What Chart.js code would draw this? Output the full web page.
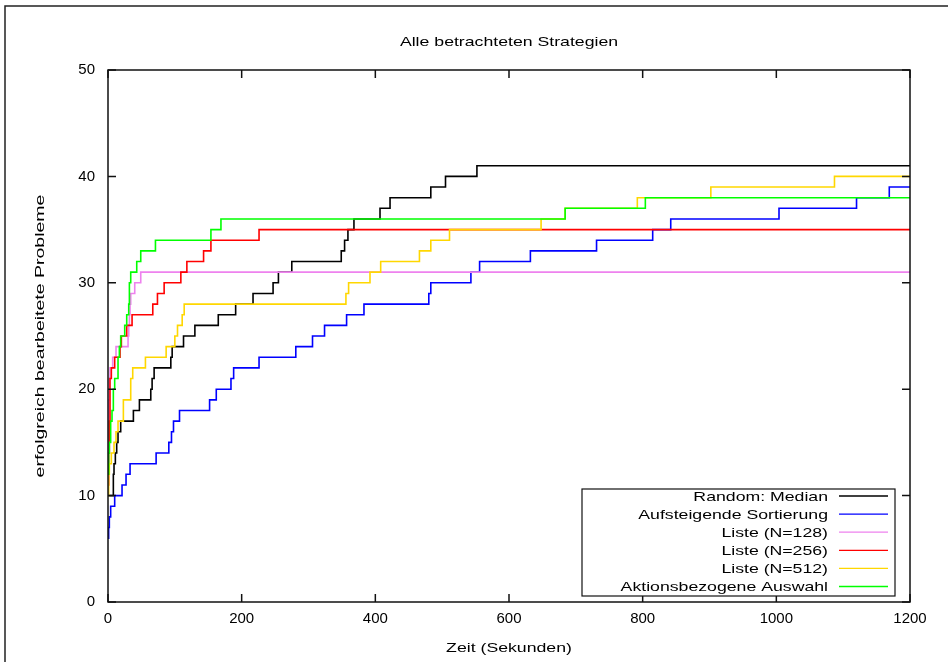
<!DOCTYPE html>
<html>
<head>
<meta charset="utf-8">
<title>Alle betrachteten Strategien</title>
<script src="https://cdn.jsdelivr.net/npm/chart.js@4.4.1/dist/chart.umd.min.js"></script>
<style>
  html, body { margin: 0; padding: 0; background: #fff; }
  #canvas { display: block; }
</style>
</head>
<body>
<canvas id="canvas" width="948" height="662"></canvas>
<script>
// step data: time (s) at which the count of solved problems rises, and the new count
var randomTime   = [0, 8, 9, 11, 13, 15, 19, 38, 47, 64, 66, 69, 94, 96, 113, 130, 165, 191, 217, 247, 255, 275, 349, 354, 359, 368, 407, 422, 483, 505, 552, 1200];
var randomSolved = [10, 12, 13, 14, 15, 16, 17, 18, 19, 20, 21, 22, 23, 24, 25, 26, 27, 28, 29, 30, 31, 32, 33, 34, 35, 36, 37, 38, 39, 40, 41, 41];

var sortTime   = [0, 1, 2, 4, 10, 21, 27, 33, 72, 91, 95, 98, 107, 152, 162, 184, 188, 226, 281, 306, 324, 357, 383, 480, 483, 543, 556, 632, 731, 815, 842, 1004, 1120, 1169, 1200];
var sortSolved = [6, 7, 8, 9, 10, 11, 12, 13, 14, 15, 16, 17, 18, 19, 20, 21, 22, 23, 24, 25, 26, 27, 28, 29, 30, 31, 32, 33, 34, 35, 36, 37, 38, 39, 39];

var list128Time   = [0, 1, 2, 3, 7, 12, 30, 31, 32, 33, 34, 40, 49, 1200];
var list128Solved = [15, 19, 21, 22, 23, 24, 25, 26, 27, 28, 29, 30, 31, 31];

var list256Time   = [0, 1, 2, 3, 5, 10, 18, 20, 28, 36, 67, 74, 84, 109, 118, 143, 154, 226, 1200];
var list256Solved = [11, 14, 17, 21, 22, 23, 24, 25, 26, 27, 28, 29, 30, 31, 32, 33, 34, 35, 35];

var list512Time   = [0, 1, 2, 5, 9, 12, 15, 23, 34, 37, 56, 87, 100, 104, 111, 114, 356, 360, 392, 408, 466, 483, 511, 648, 684, 792, 902, 1087, 1200];
var list512Solved = [10, 12, 13, 14, 15, 16, 17, 19, 21, 22, 23, 24, 25, 26, 27, 28, 29, 30, 31, 32, 33, 34, 35, 36, 37, 38, 39, 40, 40];

var actionTime   = [0, 1, 2, 4, 6, 8, 10, 15, 17, 19, 25, 28, 31, 32, 34, 43, 49, 71, 154, 169, 684, 804, 1200];
var actionSolved = [12, 14, 15, 17, 18, 20, 21, 23, 24, 25, 26, 27, 28, 30, 31, 32, 33, 34, 35, 36, 37, 38, 38];

var seriesLabels = ["Random: Median", "Aufsteigende Sortierung", "Liste (N=128)", "Liste (N=256)", "Liste (N=512)", "Aktionsbezogene Auswahl"];
var seriesColors = ["#000000", "#0000ff", "#ee82ee", "#ff0000", "#ffd700", "#00ff00"];

var xMin = 0, xMax = 1200, xStep = 200;
var yMin = 0, yMax = 50, yStep = 10;

var chartTitle = "Alle betrachteten Strategien";
var xTitle = "Zeit (Sekunden)";
var yTitle = "erfolgreich bearbeitete Probleme";

function toPoints(times, vals) {
    var pts = [];
    for (var i = 0; i < times.length; i++) {
        pts.push({ x: times[i], y: vals[i] });
    }
    return pts;
}

var allSeries = [
    toPoints(randomTime, randomSolved),
    toPoints(sortTime, sortSolved),
    toPoints(list128Time, list128Solved),
    toPoints(list256Time, list256Solved),
    toPoints(list512Time, list512Solved),
    toPoints(actionTime, actionSolved)
];

var datasets = allSeries.map(function(pts, i) {
    return {
        label: seriesLabels[i],
        data: pts,
        borderColor: seriesColors[i],
        backgroundColor: seriesColors[i],
        borderWidth: 1.6,
        pointRadius: 0,
        fill: false,
        stepped: 'before',
        order: allSeries.length - i   // later series on top, like gnuplot
    };
});

var STRETCH = 1.36;
var FONT = "13px 'Liberation Sans', Arial, sans-serif";

function wideText(ctx, text, x, y, align, rot, stretch) {
    ctx.save();
    ctx.translate(x, y);
    if (rot) ctx.rotate(rot);
    ctx.scale(stretch || STRETCH, 1);
    ctx.font = FONT;
    ctx.fillStyle = "#000";
    ctx.textAlign = align;
    ctx.textBaseline = "middle";
    ctx.fillText(text, 0, 0);
    ctx.restore();
}

// frame, inward ticks, legend box and titles
var gnuplotLook = {
    id: 'gnuplotLook',
    beforeDraw: function(chart) {
        var ctx = chart.ctx;
        ctx.save();
        ctx.fillStyle = "#fff";
        ctx.fillRect(0, 0, chart.width, chart.height);
        ctx.strokeStyle = "#222";
        ctx.lineWidth = 1.5;
        ctx.strokeRect(5, 6, 1200, 1200);
        ctx.restore();
    },
    afterDatasetsDraw: function(chart) {
        var ctx = chart.ctx;
        var a = chart.chartArea;
        var xs = chart.scales.x, ys = chart.scales.y;
        var tl = 8;
        ctx.save();
        ctx.strokeStyle = "#111";
        ctx.lineWidth = 1.5;
        ctx.beginPath();
        ys.ticks.forEach(function(t) {
            var py = ys.getPixelForValue(t.value);
            ctx.moveTo(a.left, py); ctx.lineTo(a.left + tl, py);
            ctx.moveTo(a.right, py); ctx.lineTo(a.right - tl, py);
        });
        xs.ticks.forEach(function(t) {
            var px = xs.getPixelForValue(t.value);
            ctx.moveTo(px, a.bottom); ctx.lineTo(px, a.bottom - tl);
            ctx.moveTo(px, a.top); ctx.lineTo(px, a.top + tl);
        });
        ctx.stroke();

        // legend, gnuplot style: right aligned text, sample on the right
        var bx = 582, by = 489, bw = 313, bh = 107;
        ctx.fillStyle = "#fff";
        ctx.fillRect(bx, by, bw, bh);
        ctx.lineWidth = 1.2;
        ctx.strokeStyle = "#111";
        ctx.strokeRect(bx, by, bw, bh);
        chart.data.datasets.forEach(function(ds, i) {
            var ly = 496 + i * 18.1;
            wideText(ctx, ds.label, 828, ly + 1, "right", 0);
            ctx.strokeStyle = ds.borderColor;
            ctx.lineWidth = 1.3;
            ctx.beginPath();
            ctx.moveTo(839, ly); ctx.lineTo(888, ly);
            ctx.stroke();
        });

        ctx.strokeStyle = "#111";
        ctx.lineWidth = 1.5;
        ctx.strokeRect(a.left, a.top, a.right - a.left, a.bottom - a.top);

        var cx = (a.left + a.right) / 2;
        wideText(ctx, chartTitle, cx, 42, "center", 0);
        wideText(ctx, xTitle, cx, 648, "center", 0);
        wideText(ctx, yTitle, 40, (a.top + a.bottom) / 2, "center", -Math.PI / 2, 1.5);
        ctx.restore();
    }
};

var config = {
    type: 'line',
    data: { datasets: datasets },
    options: {
        responsive: false,
        animation: false,
        layout: {
            padding: { left: 0, right: 38, top: 70, bottom: 0 }
        },
        plugins: {
            legend: { display: false },
            title: { display: false },
            tooltip: { enabled: false }
        },
        scales: {
            x: {
                type: 'linear',
                min: xMin,
                max: xMax,
                grid: { display: false, drawTicks: false },
                border: { display: false },
                ticks: {
                    stepSize: xStep,
                    color: "#000",
                    padding: 8,
                    maxRotation: 0,
                    font: { family: "'Liberation Sans', Arial, sans-serif", size: 15 },
                    callback: function(value) { return String(value); }
                },
                afterFit: function(scale) { scale.height = 60; }
            },
            y: {
                type: 'linear',
                min: yMin,
                max: yMax,
                grid: { display: false, drawTicks: false },
                border: { display: false },
                ticks: {
                    stepSize: yStep,
                    color: "#000",
                    padding: 13,
                    font: { family: "'Liberation Sans', Arial, sans-serif", size: 15 },
                    callback: function(value) { return String(value); }
                },
                afterFit: function(scale) { scale.width = 108; }
            }
        }
    },
    plugins: [gnuplotLook]
};

window.onload = function() {
    var ctx = document.getElementById("canvas").getContext("2d");
    window.myLine = new Chart(ctx, config);
};
</script>
</body>
</html>
